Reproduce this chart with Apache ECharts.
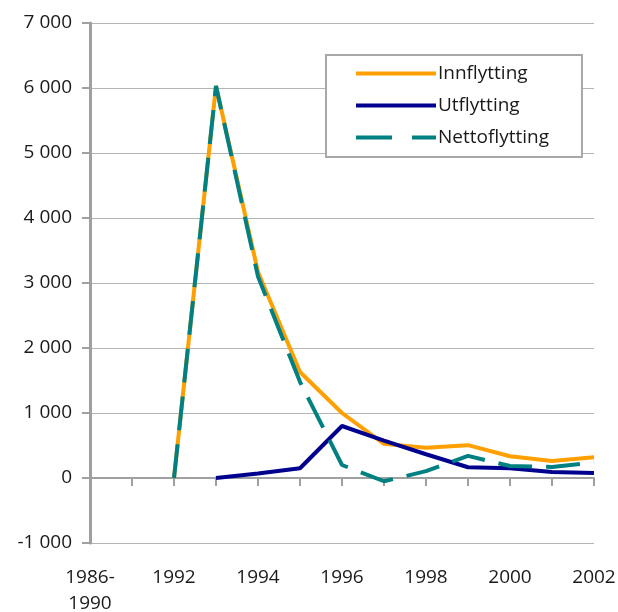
<!DOCTYPE html>
<html>
<head>
<meta charset="utf-8">
<script src="https://cdn.jsdelivr.net/npm/echarts@6/dist/echarts.min.js"></script>
<style>
  html, body { margin: 0; padding: 0; background: #fff; }
  #chart { width: 618px; height: 612px; }
</style>
</head>
<body>
<div id="chart"></div>
<script>
// Categories on the x axis (first one is a period)
const categories = ['1986-\n1990', '1991', '1992', '1993', '1994', '1995', '1996',
  '1997', '1998', '1999', '2000', '2001', '2002']

// Series values (null = no point)
const innflytting = [null, null, 0, 6030, 3170, 1630, 1000, 525, 465, 505, 335, 262, 318]
const utflytting = [null, null, null, 0, 70, 150, 800, 575, 365, 165, 150, 92, 78]
const nettoflytting = [null, null, 0, 6030, 3100, 1480, 200, -50, 105, 340, 185, 170, 240]

const yTicks = { min: -1000, max: 7000, interval: 1000 }

const textColor = '#1a1a1a'
const axisGray = '#a0a0a0'
const font = 'Open Sans'

// legend icons: solid bar and a dash-gap-dash bar
const solidIcon = 'path://M0,0H80V4H0Z'
const dashIcon = 'path://M0,0H36V4H0Z M56,0H80V4H56Z'

function fmtThousands(v) {
  const s = Math.abs(v).toString().replace(/\B(?=(\d{3})+(?!\d))/g, ' ')
  return (v < 0 ? '-' : '') + s
}

const chart = echarts.init(document.getElementById('chart'), null, { renderer: 'canvas' })

chart.setOption({
  animation: false,
  textStyle: { fontFamily: font },
  grid: { left: 90, right: 24, top: 23, bottom: 69, containLabel: false, outerBoundsMode: 'none' },
  legend: {
    show: true,
    orient: 'vertical',
    left: 326,
    top: 55,
    padding: [9, 33, 10, 30],
    itemWidth: 80,
    itemHeight: 4,
    itemGap: 13,
    borderColor: '#a8a8a8',
    borderWidth: 2,
    backgroundColor: '#fff',
    textStyle: { fontFamily: font, fontSize: 19, color: textColor, lineHeight: 18, padding: [0, 0, 0, -3] },
    data: [
      { name: 'Innflytting', icon: solidIcon },
      { name: 'Utflytting', icon: solidIcon },
      { name: 'Nettoflytting', icon: dashIcon }
    ]
  },
  xAxis: {
    type: 'category',
    data: categories,
    boundaryGap: false,
    axisLine: { onZero: true, lineStyle: { color: axisGray, width: 2 } },
    axisTick: { show: true, length: 8, interval: 0, lineStyle: { color: axisGray, width: 2 } },
    axisLabel: {
      interval: 1,
      margin: 22,
      fontFamily: font,
      fontSize: 19,
      color: textColor,
      lineHeight: 26
    },
    splitLine: { show: false }
  },
  yAxis: {
    type: 'value',
    min: yTicks.min,
    max: yTicks.max,
    interval: yTicks.interval,
    axisLine: { show: true, lineStyle: { color: axisGray, width: 3 } },
    axisTick: { show: true, length: 8, lineStyle: { color: axisGray, width: 2 } },
    axisLabel: {
      margin: 18,
      fontFamily: font,
      fontSize: 19,
      color: textColor,
      formatter: fmtThousands
    },
    splitLine: { show: true, lineStyle: { color: '#b4b4b4', width: 1 } }
  },
  series: [
    {
      name: 'Innflytting',
      type: 'line',
      data: innflytting,
      symbol: 'none',
      color: '#FFA000',
      lineStyle: { color: '#FFA000', width: 4 },
      z: 2
    },
    {
      name: 'Utflytting',
      type: 'line',
      data: utflytting,
      symbol: 'none',
      color: '#00008f',
      lineStyle: { color: '#00008f', width: 4 },
      z: 3
    },
    {
      name: 'Nettoflytting',
      type: 'line',
      data: nettoflytting,
      symbol: 'none',
      color: '#008080',
      lineStyle: { color: '#008080', width: 4, type: [34, 14] },
      z: 4
    }
  ]
})
</script>
</body>
</html>
